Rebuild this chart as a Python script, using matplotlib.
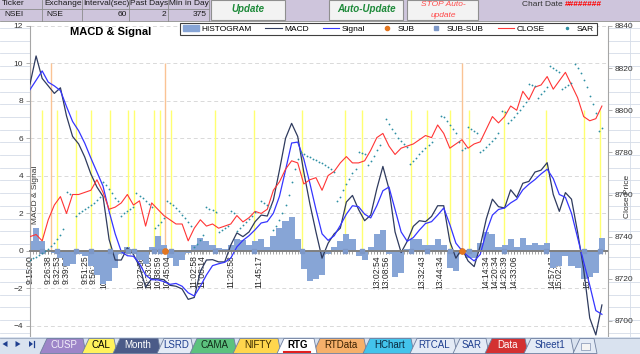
import numpy as np
import matplotlib
matplotlib.use("Agg")
from matplotlib import pyplot as plt
from matplotlib.patches import Rectangle, Polygon, Patch
from matplotlib.lines import Line2D
from matplotlib.ticker import FixedLocator

plt.rcParams['font.family'] = ['Liberation Sans', 'DejaVu Sans']
nan = np.nan

# ---- data (minutes after 9:15, one sample every 4 min) ----
minutes = np.arange(0, 377, 4)
macd = [8.9, 10.4, 9.2, 8.8, 8.4, 8.7, 7.2, 6.1, 5.7, 5.0,
        4.1, 3.4, 2.9, 0.6, -0.5, -0.5, 0.15, -0.2, -0.85, -1.95,
        -1.5, -1.5, -1.55, -1.85, -1.9, -2.05, -2.6, -2.5, -1.1, -0.5,
        -0.48, -0.6, -0.6, 0.3, 0.95, 0.75, 1.0, 1.55, 1.9, 1.85,
        2.7, 4.3, 6.0, 6.8, 6.1, 4.2, 2.5, 1.0, -0.4, 0.4,
        0.9, 1.2, 2.6, 2.95, 2.2, 1.6, 1.9, 3.3, 4.5, 3.3,
        1.0, -0.1, 0.5, 1.3, 1.6, 1.55, 1.83, 2.4, 2.4, 0.5,
        -0.4, 0.1, -0.55, -0.85, 0.25, 1.7, 2.75, 2.35, 2.28, 3.25,
        2.85, 3.6, 3.7, 4.2, 4.3, 4.7, 3.0, 2.1, 3.1, 2.75,
        1.0, -1.0, -3.6, -4.5, -2.9]
signal = [8.6, 9.1, 9.6, 9.0, 8.8, 8.55, 7.7, 6.9, 6.4, 5.74,
          4.95, 4.2, 3.45, 2.1, 0.9, -0.05, -0.27, -0.3, -0.7, -1.3,
          -1.55, -1.56, -1.65, -1.8, -1.75, -1.9, -2.25, -2.42, -1.9, -1.3,
          -0.8, -0.7, -0.62, -0.4, 0.2, 0.55, 0.8, 1.12, 1.48, 1.55,
          2.0, 2.9, 4.3, 5.75, 5.8, 4.9, 3.6, 2.2, 0.9, 0.55,
          0.8, 1.35, 1.95, 2.4, 2.35, 1.95, 1.75, 2.4, 3.2, 3.4,
          2.2, 1.0, 0.5, 0.7, 1.1, 1.45, 1.55, 1.9, 2.28, 1.4,
          0.4, 0.0, -0.3, -0.55, -0.2, 1.0, 1.9, 2.2, 2.28, 2.55,
          2.75, 3.25, 3.55, 3.8, 4.1, 4.35, 3.85, 3.0, 2.85, 2.0,
          0.7, -0.6, -1.85, -3.2, -3.4]
histogram = [0.5, 1.2, 0.5, 0.0, -0.1, -0.4, -0.8, -0.7, -0.2, -0.3,
             -0.8, -1.3, -1.8, -1.6, -0.9, -0.2, 0.2, 0.1, -0.5, -0.7,
             0.2, 0.8, 0.3, -0.4, -0.8, -0.5, -0.1, 0.3, 0.7, 0.5,
             0.3, 0.15, 0.1, 0.3, 0.6, 0.55, 0.3, 0.5, 0.6, 0.2,
             0.8, 1.2, 1.6, 1.8, 0.6, -1.0, -1.6, -1.5, -1.3, -0.2,
             0.2, 0.5, 0.9, 0.6, -0.3, -0.5, 0.2, 0.9, 1.1, -0.2,
             -1.4, -1.2, 0.1, 0.6, 0.6, 0.3, 0.3, 0.6, 0.3, -0.9,
             -1.1, -0.2, -0.4, -0.4, 0.4, 1.0, 0.9, 0.2, 0.3, 0.6,
             0.2, 0.7, 0.3, 0.4, 0.3, 0.4, -0.9, -0.8, -0.3, -0.8,
             -0.9, -1.5, -1.4, -1.2, 0.7]
close = [8740, 8741, 8738, 8748, 8755, 8759, 8751, 8760, 8760, 8761,
         8762, 8767, 8761, 8753, 8754, 8756, 8760, 8755, 8757, 8745,
         8756, 8753, 8750, 8748, 8746, 8746, 8738, 8744, 8748, 8745,
         8746, 8744, 8745, 8746, 8750, 8747, 8749, 8752, 8751, 8753,
         8762, 8766, 8772, 8776, 8775, 8765, 8767, 8768, 8762, 8769,
         8771, 8775, 8778, 8775, 8775, 8776, 8781, 8787, 8789, 8783,
         8779, 8782, 8783, 8784, 8786, 8788, 8787, 8793, 8789, 8782,
         8784, 8786, 8782, 8784, 8785, 8791, 8797, 8794, 8797, 8802,
         8800, 8809, 8805, 8811, 8812, 8816, 8810, 8814, 8818, 8812,
         8806, 8797, 8795, 8796, 8802]

# parabolic SAR, one sample every 2 min (nan = no dot)
sar_minutes = np.arange(0, 377, 2)
sar = [8729, 8729.7, 8730.5, 8731.3, 8732.2, 8733.2, 8734.3, 8735.5, 8737, 8739,
       8741, 8743.5, 8761.3, 8760.3, nan, 8750, 8751, 8752, 8753, 8754,
       8755, 8756, 8757.5, 8759, 8766, 8764.5, 8762.5, 8760.5, 8758.5, 8757,
       8750, 8751, 8752, 8753, 8754, 8760.5, 8759.5, 8758.5, 8757, 8755.5,
       8754, 8744, 8745.5, 8747, 8749, 8757, 8756, 8755, 8753.5, 8752,
       8750.5, 8749, 8747, 8745, 8735, 8736.5, 8738.5, 8741, 8754, 8753,
       8752.5, 8751.5, 8742, 8743, 8744, 8745, 8752, 8751, 8742.5, 8744,
       8745.5, 8747, 8748.5, 8750, 8751.5, nan, 8757, 8756, 8755, 8754,
       8743, 8745, 8748, 8751, 8755, 8760, 8766, 8772, 8777, 8780,
       8779, 8778.5, 8778, 8777, 8776.5, 8775.5, 8775, 8774, 8773, 8772,
       8770.5, 8757, 8759, 8762, 8765, 8767.5, 8770, 8772, 8780, 8779.5,
       8779, 8774, 8776, 8778.5, 8781, 8783.5, nan, 8796, 8793.5, 8791,
       8789, 8787, 8785.5, 8784, 8782.5, 8774.5, 8776, 8777.5, 8779, 8780.5,
       8782, 8783.5, 8785, nan, nan, 8797.5, 8797, 8795, 8793, 8791,
       8789, 8785, 8781, 8782, 8792, 8791, 8790, 8789, 8780, 8781,
       8782.5, 8784, 8785.5, 8787, 8789, 8799.5, 8799, 8794, 8795.5, 8797,
       8798.5, 8800, 8802, 8804, 8812.5, 8812, 8811.5, 8806, 8807.5, 8809,
       8811, 8821, 8820, 8819, 8818, 8810, 8811, 8812, 8813, 8822,
       8820, 8817.5, 8814.5, 8811, 8807, 8803, 8798.5, 8790, 8791.5]

# signal markers (minutes after 9:15)
subsub_at = [7.7, 18, 30, 39.8, 52.6, 64.4, 68.4, 81.5, 85.5, 92.5, 121.6, 147.3,
             178.6, 207, 218, 250.5, 260.8, 276, 288.8, 311.6, 339, 364, 374.7]
sub_lines_at = [0, 13.5, 89, 284]
sub_at = [89, 284]

label_times = ["9:15:00", "9:26:38", "9:32:53", "9:39:04", "9:51:25", "9:56:32",
               "10:03:15", "10:27:36", "10:33:05", "10:38:59", "10:45:04",
               "11:02:58", "11:08:14", "11:26:58", "11:45:17", "13:02:54",
               "13:08:56", "13:32:43", "13:44:34", "14:14:34", "14:20:34",
               "14:26:39", "14:33:06", "14:57:47", "15:02:50", "15:21:24"]


def to_min(t):
    h, m, s = map(int, t.split(":"))
    return h * 60 + m + s / 60 - (9 * 60 + 15)


label_pos = [to_min(t) for t in label_times]

HIST_C = '#87A5D6'
MACD_C = '#2F3B5E'
SIG_C = '#3535FF'
CLOSE_C = '#FF3535'
SAR_C = '#2E8FA3'
SUB_C = '#E3761F'
SUBSUB_C = '#7D98C8'

W, H = 640, 354
fig = plt.figure(figsize=(W / 100, H / 100), dpi=100)
fig.patch.set_facecolor('white')


def fx(x):
    return x / W


def fy(y):
    return 1 - y / H


def px_poly(pts, **kw):
    fig.add_artist(Polygon([(fx(x), fy(y)) for x, y in pts], closed=True,
                           transform=fig.transFigure, **kw))


def px_line(xs, ys, **kw):
    fig.add_artist(Line2D([fx(x) for x in xs], [fy(y) for y in ys],
                          transform=fig.transFigure, **kw))


# spreadsheet cells showing around the chart
for y in np.arange(28.0, H, 12.7):
    px_line([0, W], [y, y], color='#D5DCE8', lw=0.6, zorder=-2)
px_line([630, 630], [20, H], color='#D5DCE8', lw=0.6, zorder=-2)

# ---- chart ----
ax = fig.add_axes([fx(30), fy(363), 578 / W, 337 / H])
ax.set_facecolor('white')
ax.set_xlim(0, 380)
ax.set_ylim(-6, 12)
ax.set_yticks(range(-4, 13, 2))
ax.set_axisbelow(True)
ax.yaxis.grid(True, linestyle=(0, (4, 3)), color='#D9D9D9', lw=0.7)

ax.vlines(sub_lines_at, 0, 10, color='#FAC394', lw=1.0, zorder=1.4)
ax.vlines(subsub_at, 0, 7.5, color='#FFFF70', lw=1.0, zorder=1.5)
ax.bar(minutes, histogram, width=4, color=HIST_C, linewidth=0, zorder=2)
ax.plot(minutes, macd, color=MACD_C, lw=0.9, zorder=3)
ax.plot(minutes, signal, color=SIG_C, lw=0.9, zorder=3)
ax.plot(subsub_at, np.zeros(len(subsub_at)), 's', color=SUBSUB_C, ms=2.6, zorder=4)
ax.plot(sub_at, np.zeros(len(sub_at)), 'o', color=SUB_C, ms=3.8, zorder=4)

for s in ['top', 'right']:
    ax.spines[s].set_visible(False)
ax.spines['left'].set_color('#A6A6A6')
ax.spines['left'].set_linewidth(0.8)
ax.spines['bottom'].set_position(('data', 0))
ax.spines['bottom'].set_color('#7F7F7F')
ax.spines['bottom'].set_linewidth(1.4)
ax.spines['bottom'].set_zorder(3.5)

ax.set_xticks(label_pos)
ax.set_xticklabels(label_times, rotation=90, va='top')
ax.xaxis.set_minor_locator(FixedLocator(np.arange(0, 380, 2)))
ax.tick_params(axis='x', which='both', direction='out', length=2.5, width=0.5,
               color='#808080', labelsize=6.2, labelcolor='#262626', pad=1)
ax.tick_params(axis='y', direction='out', length=3, width=0.6, color='#A6A6A6',
               labelsize=6, labelcolor='#333333', pad=2)
ax.set_ylabel('MACD & Signal', fontsize=6, color='#333333', va='center')
ax.yaxis.set_label_coords(0.0095, 0.50)

ax2 = ax.twinx()
ax2.set_ylim(8680, 8840)
ax2.set_yticks(range(8700, 8841, 20))
ax2.plot(minutes, close, color=CLOSE_C, lw=0.8, zorder=3)
ax2.plot(sar_minutes, sar, ls='none', marker='o', ms=1.3, mew=0, color=SAR_C, zorder=4)
for s in ['top', 'left', 'bottom']:
    ax2.spines[s].set_visible(False)
ax2.spines['right'].set_color('#A6A6A6')
ax2.spines['right'].set_linewidth(0.8)
ax2.tick_params(axis='y', direction='out', length=3, width=0.6, color='#A6A6A6',
                labelsize=6, labelcolor='#333333', pad=2)
ax2.set_ylabel('Close Price', fontsize=6, color='#333333', va='center')
ax2.yaxis.set_label_coords(1.0346, 0.495)

fig.text(fx(111), fy(32), 'MACD & Signal', ha='center', va='center',
         fontsize=8, fontweight='bold', color='black')

handles = [Patch(facecolor=HIST_C, edgecolor=HIST_C),
           Line2D([], [], color=MACD_C, lw=0.8),
           Line2D([], [], color=SIG_C, lw=0.8),
           Line2D([], [], ls='none', marker='o', ms=3, color=SUB_C),
           Line2D([], [], ls='none', marker='s', ms=2.6, color=SUBSUB_C),
           Line2D([], [], color=CLOSE_C, lw=0.8),
           Line2D([], [], ls='none', marker='o', ms=1.5, color=SAR_C)]
leg = fig.legend(handles, ['HISTOGRAM', 'MACD', 'Signal', 'SUB', 'SUB-SUB', 'CLOSE', 'SAR'],
                 loc='upper left', bbox_to_anchor=(fx(180), fy(22.5)), ncol=7,
                 fontsize=6, frameon=True, fancybox=False, edgecolor='#404040',
                 framealpha=1, borderpad=0.3, handlelength=2.0, handletextpad=0.25,
                 columnspacing=1.65, borderaxespad=0)
leg.get_frame().set_linewidth(0.8)

# ---- worksheet header above the chart ----
fig.add_artist(Rectangle((0, fy(20.5)), 1, 20.5 / H, transform=fig.transFigure,
                         facecolor='#CEC5DC', edgecolor='none', zorder=6))
px_line([0, 209], [9, 9], color='#8C8C8C', lw=0.6, zorder=7)
px_line([0, W], [20.5, 20.5], color='#8C8C8C', lw=0.6, zorder=7)
for x in [42, 82, 129, 168, 209]:
    px_line([x, x], [0, 20.5], color='#8C8C8C', lw=0.6, zorder=7)
head_1 = ['Ticker', 'Exchange', 'Interval(sec)', 'Past Days', 'Min in Day']
head_2 = ['NSEI', 'NSE', '60', '2', '375']
col_l = [2, 44, 83, 130, 169]
col_r = [40, 80, 127, 166, 207]
for i in range(5):
    fig.text(fx(col_l[i]), fy(3.5), head_1[i], fontsize=6, va='center', ha='left',
             color='#1A1A1A', zorder=8)
    if i < 2:
        fig.text(fx(col_l[i] + 2), fy(14.5), head_2[i], fontsize=6, va='center',
                 ha='left', color='#1A1A1A', zorder=8)
    else:
        fig.text(fx(col_r[i]), fy(14.5), head_2[i], fontsize=6, va='center',
                 ha='right', color='#1A1A1A', zorder=8)

for x0, x1 in [(211, 285), (329, 403), (407, 478)]:
    fig.add_artist(Rectangle((fx(x0), fy(19.5)), (x1 - x0) / W, 19.5 / H,
                             transform=fig.transFigure, facecolor='#F3F3F3',
                             edgecolor='#8F8F8F', lw=0.8, zorder=7))
fig.text(fx(248), fy(9), 'Update', fontsize=7, fontweight='bold', style='italic',
         color='#1E8A3A', ha='center', va='center', zorder=8)
fig.text(fx(366), fy(9), 'Auto-Update', fontsize=7, fontweight='bold', style='italic',
         color='#1E8A3A', ha='center', va='center', zorder=8)
fig.text(fx(443), fy(5), 'STOP Auto-', fontsize=6, style='italic',
         color='#FF4A4A', ha='center', va='center', zorder=8)
fig.text(fx(443), fy(15.5), 'update', fontsize=6, style='italic',
         color='#FF4A4A', ha='center', va='center', zorder=8)
fig.text(fx(522), fy(5), 'Chart Date', fontsize=6, color='#333333',
         ha='left', va='center', zorder=8)
fig.text(fx(565), fy(5), '########', fontsize=6, color='#FF0000', fontweight='bold',
         ha='left', va='center', zorder=8)

# ---- sheet tabs ----
fig.add_artist(Rectangle((0, 0), 1, (H - 337) / H, transform=fig.transFigure,
                         facecolor='#D9E2EF', edgecolor='none', zorder=9))
px_line([0, W], [337.5, 337.5], color='#9AA8BF', lw=0.6, zorder=9)
for x in [5, 18]:
    d = -1 if x == 5 else 1
    px_poly([(x - 2.5 * d, 341), (x - 2.5 * d, 347), (x + 2.5 * d, 344)],
            facecolor='#1F3F8F', edgecolor='none', zorder=10)
px_poly([(29, 341), (29, 347), (33, 344)], facecolor='#1F3F8F', edgecolor='none', zorder=10)
px_line([34, 34], [341, 347], color='#1F3F8F', lw=0.9, zorder=10)

tab_names = ["CUSP", "CAL", "Month", "LSRD", "CAMA", "NIFTY", "RTG",
             "RTData", "HChart", "RTCAL", "SAR", "Data", "Sheet1"]
tab_fill = ['#9D85C8', '#FFF25C', '#4B5B88', '#E4EBF6', '#5CC27E', '#FFD64D', '#FFFFFF',
            '#F6B06A', '#43C4EC', '#E4EBF6', '#E4EBF6', '#D33131', '#E4EBF6']
tab_ink = ['#F4F0FA', 'black', 'white', '#1F3F8F', '#102A18', '#3A2A00', 'black',
           '#3A2000', '#0A2A40', '#1F3F8F', '#1F3F8F', 'white', '#1F3F8F']
tab_edges = [40, 82, 113, 157, 190, 233, 277, 313, 363, 410, 453, 485, 524, 570]
order = [i for i in range(len(tab_names)) if tab_names[i] != 'RTG'] + [tab_names.index('RTG')]
for i in order:
    x0, x1 = tab_edges[i], tab_edges[i + 1]
    px_poly([(x0, 353.5), (x0 + 7, 338.5), (x1 + 1, 338.5), (x1 + 4, 353.5)],
            facecolor=tab_fill[i], edgecolor='#6F7F9F', lw=0.6, zorder=10)
    fig.text(fx((x0 + x1) / 2 + 3), fy(345.5), tab_names[i], fontsize=7,
             color=tab_ink[i], ha='center', va='center', zorder=11,
             fontweight='bold' if tab_names[i] == 'RTG' else 'normal')
px_line([284, 310], [352, 352], color='#E02020', lw=1.5, zorder=11)
px_poly([(573, 353.5), (580, 338.5), (594, 338.5), (597, 353.5)],
        facecolor='#E4EBF6', edgecolor='#6F7F9F', lw=0.6, zorder=10)
fig.add_artist(Rectangle((fx(581), fy(350)), 9 / W, 7 / H, transform=fig.transFigure,
                         facecolor='#F4F4F4', edgecolor='#8090B0', lw=0.5, zorder=11))

fig.savefig('out.png', dpi=100)
